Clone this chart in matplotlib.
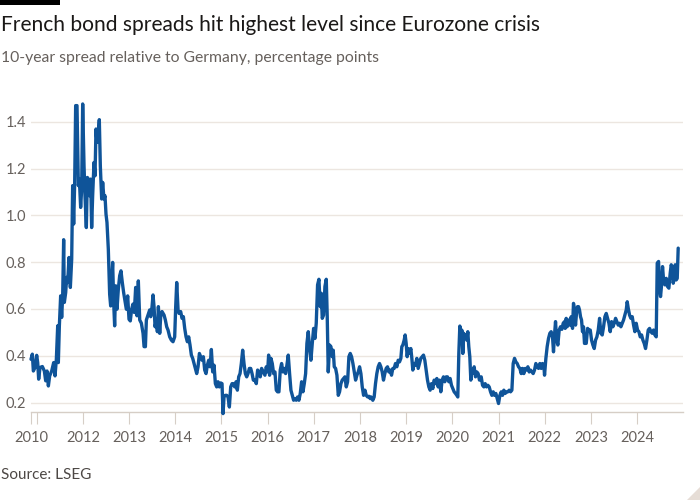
import matplotlib
matplotlib.use("Agg")
import matplotlib.pyplot as plt
from matplotlib.patches import Rectangle, Polygon
import numpy as np

# ---------------- data (fractional years, percentage points) ----------------
dates_2011_2013 = [2010.877, 2010.906, 2010.928, 2010.964, 2011.000, 2011.022, 2011.043, 2011.072, 2011.123, 2011.166,
                   2011.195, 2011.224, 2011.253, 2011.281, 2011.325, 2011.368, 2011.397, 2011.426, 2011.455, 2011.469,
                   2011.491, 2011.519, 2011.541, 2011.563, 2011.584, 2011.599, 2011.628, 2011.649, 2011.671, 2011.700,
                   2011.729, 2011.758, 2011.779, 2011.801, 2011.823, 2011.844, 2011.873, 2011.902, 2011.924, 2011.952,
                   2011.974, 2011.996, 2012.025, 2012.046, 2012.075, 2012.097, 2012.118, 2012.140, 2012.169, 2012.190,
                   2012.212, 2012.241, 2012.263, 2012.284, 2012.306, 2012.335, 2012.356, 2012.378, 2012.407, 2012.429,
                   2012.457, 2012.479, 2012.501, 2012.522, 2012.551, 2012.580, 2012.602, 2012.623, 2012.645, 2012.667,
                   2012.688, 2012.710, 2012.739, 2012.768, 2012.797, 2012.825, 2012.854, 2012.883, 2012.912, 2012.941,
                   2012.970, 2012.999, 2013.027, 2013.056, 2013.085, 2013.114, 2013.143, 2013.172, 2013.201]
spread_2011_2013 = [0.385, 0.407, 0.335, 0.350, 0.402, 0.371, 0.300, 0.350, 0.354, 0.335,
                    0.293, 0.335, 0.271, 0.314, 0.335, 0.371, 0.314, 0.385, 0.528, 0.371,
                    0.528, 0.656, 0.564, 0.656, 0.896, 0.628, 0.670, 0.735, 0.713, 0.820,
                    0.692, 0.813, 1.127, 0.963, 1.141, 1.469, 1.469, 1.127, 1.155, 1.034,
                    1.112, 1.476, 1.212, 1.084, 0.948, 1.162, 1.155, 1.084, 1.155, 0.948,
                    1.084, 1.226, 1.169, 1.369, 1.312, 1.348, 1.409, 1.212, 1.070, 1.141,
                    1.070, 1.084, 1.005, 0.970, 0.856, 0.663, 0.613, 0.713, 0.799, 0.628,
                    0.528, 0.699, 0.599, 0.685, 0.742, 0.763, 0.713, 0.670, 0.635, 0.599,
                    0.656, 0.556, 0.549, 0.599, 0.621, 0.585, 0.692, 0.571, 0.720]

dates_2013_2015 = [2013.231, 2013.267, 2013.303, 2013.325, 2013.354, 2013.375, 2013.411, 2013.447, 2013.469, 2013.498,
                   2013.519, 2013.541, 2013.563, 2013.592, 2013.613, 2013.635, 2013.664, 2013.685, 2013.714, 2013.758,
                   2013.786, 2013.815, 2013.844, 2013.880, 2013.916, 2013.952, 2013.988, 2014.010, 2014.032, 2014.061,
                   2014.082, 2014.118, 2014.147, 2014.176, 2014.205, 2014.234, 2014.263, 2014.291, 2014.320, 2014.349,
                   2014.378, 2014.407, 2014.436, 2014.465, 2014.494, 2014.523, 2014.551, 2014.580, 2014.609, 2014.638,
                   2014.667, 2014.696, 2014.724, 2014.753, 2014.782, 2014.811, 2014.840, 2014.869, 2014.898, 2014.926,
                   2014.955, 2014.984, 2015.013, 2015.035, 2015.056, 2015.085, 2015.114, 2015.143, 2015.172, 2015.201,
                   2015.230, 2015.258, 2015.287, 2015.316, 2015.345, 2015.374, 2015.403, 2015.431, 2015.460, 2015.489,
                   2015.518, 2015.547, 2015.576, 2015.605, 2015.634, 2015.663, 2015.691]
spread_2013_2015 = [0.553, 0.539, 0.496, 0.439, 0.439, 0.553, 0.574, 0.596, 0.567, 0.610,
                    0.660, 0.610, 0.524, 0.553, 0.503, 0.610, 0.496, 0.567, 0.589, 0.574,
                    0.553, 0.524, 0.510, 0.481, 0.467, 0.460, 0.481, 0.610, 0.713, 0.596,
                    0.581, 0.589, 0.560, 0.567, 0.517, 0.481, 0.460, 0.481, 0.446, 0.403,
                    0.389, 0.367, 0.346, 0.324, 0.353, 0.410, 0.396, 0.381, 0.396, 0.339,
                    0.324, 0.360, 0.381, 0.353, 0.427, 0.331, 0.360, 0.281, 0.267, 0.289,
                    0.267, 0.284, 0.281, 0.153, 0.224, 0.231, 0.231, 0.224, 0.181, 0.267,
                    0.281, 0.281, 0.267, 0.289, 0.253, 0.310, 0.324, 0.367, 0.424, 0.367,
                    0.324, 0.310, 0.324, 0.346, 0.346, 0.324, 0.296]

dates_2015_2018 = [2015.726, 2015.755, 2015.784, 2015.812, 2015.841, 2015.870, 2015.906, 2015.942, 2015.971, 2016.000,
                   2016.022, 2016.043, 2016.072, 2016.101, 2016.130, 2016.159, 2016.188, 2016.216, 2016.245, 2016.274,
                   2016.303, 2016.332, 2016.361, 2016.390, 2016.418, 2016.447, 2016.476, 2016.505, 2016.534, 2016.563,
                   2016.592, 2016.620, 2016.649, 2016.678, 2016.707, 2016.736, 2016.765, 2016.794, 2016.823, 2016.851,
                   2016.880, 2016.909, 2016.938, 2016.967, 2016.996, 2017.025, 2017.053, 2017.082, 2017.111, 2017.140,
                   2017.162, 2017.183, 2017.212, 2017.241, 2017.270, 2017.291, 2017.313, 2017.342, 2017.371, 2017.400,
                   2017.421, 2017.443, 2017.472, 2017.501, 2017.530, 2017.558, 2017.587, 2017.616, 2017.645, 2017.674,
                   2017.703, 2017.732, 2017.760, 2017.789, 2017.818, 2017.847, 2017.876, 2017.905, 2017.934, 2017.962,
                   2017.991, 2018.020, 2018.049, 2018.078, 2018.107, 2018.136, 2018.165, 2018.193, 2018.222]
spread_2015_2018 = [0.296, 0.281, 0.339, 0.331, 0.310, 0.346, 0.331, 0.317, 0.353, 0.331,
                    0.403, 0.317, 0.389, 0.367, 0.324, 0.331, 0.253, 0.246, 0.246, 0.339,
                    0.367, 0.331, 0.346, 0.324, 0.360, 0.403, 0.324, 0.253, 0.231, 0.210,
                    0.217, 0.210, 0.224, 0.210, 0.239, 0.289, 0.246, 0.281, 0.324, 0.453,
                    0.503, 0.431, 0.381, 0.453, 0.517, 0.474, 0.539, 0.703, 0.727, 0.610,
                    0.667, 0.560, 0.574, 0.696, 0.727, 0.567, 0.331, 0.446, 0.439, 0.396,
                    0.424, 0.353, 0.346, 0.317, 0.231, 0.246, 0.281, 0.296, 0.303, 0.310,
                    0.267, 0.289, 0.396, 0.410, 0.396, 0.367, 0.331, 0.296, 0.317, 0.331,
                    0.353, 0.324, 0.267, 0.231, 0.253, 0.231, 0.224, 0.227, 0.217]

dates_2018_2020 = [2018.242, 2018.278, 2018.307, 2018.336, 2018.365, 2018.394, 2018.423, 2018.452, 2018.481, 2018.509,
                   2018.538, 2018.567, 2018.596, 2018.625, 2018.654, 2018.683, 2018.711, 2018.740, 2018.769, 2018.798,
                   2018.827, 2018.856, 2018.885, 2018.906, 2018.928, 2018.957, 2018.978, 2019.000, 2019.022, 2019.043,
                   2019.072, 2019.101, 2019.123, 2019.144, 2019.173, 2019.202, 2019.231, 2019.260, 2019.289, 2019.317,
                   2019.346, 2019.375, 2019.404, 2019.433, 2019.462, 2019.491, 2019.519, 2019.548, 2019.577, 2019.606,
                   2019.635, 2019.664, 2019.693, 2019.722, 2019.750, 2019.779, 2019.808, 2019.837, 2019.866, 2019.895,
                   2019.924, 2019.952, 2019.981, 2020.010, 2020.039, 2020.068, 2020.097, 2020.118, 2020.140, 2020.162,
                   2020.183, 2020.205, 2020.227, 2020.248, 2020.270, 2020.291, 2020.313, 2020.335, 2020.356, 2020.378,
                   2020.400, 2020.421, 2020.443, 2020.472, 2020.501, 2020.530, 2020.558, 2020.587]
spread_2018_2020 = [0.224, 0.210, 0.224, 0.281, 0.324, 0.353, 0.367, 0.353, 0.331, 0.296,
                    0.324, 0.346, 0.353, 0.331, 0.339, 0.317, 0.346, 0.346, 0.367, 0.353,
                    0.381, 0.374, 0.389, 0.439, 0.446, 0.467, 0.489, 0.453, 0.396, 0.431,
                    0.410, 0.431, 0.389, 0.339, 0.367, 0.360, 0.389, 0.346, 0.367, 0.389,
                    0.396, 0.403, 0.381, 0.339, 0.296, 0.267, 0.253, 0.281, 0.260, 0.296,
                    0.281, 0.303, 0.267, 0.296, 0.246, 0.296, 0.310, 0.289, 0.310, 0.310,
                    0.289, 0.303, 0.274, 0.260, 0.246, 0.239, 0.231, 0.224, 0.410, 0.527,
                    0.467, 0.510, 0.410, 0.496, 0.474, 0.489, 0.467, 0.503, 0.439, 0.396,
                    0.296, 0.339, 0.324, 0.353, 0.310, 0.331, 0.324, 0.296]

dates_2020_2022 = [2020.625, 2020.654, 2020.683, 2020.711, 2020.740, 2020.769, 2020.798, 2020.827, 2020.856, 2020.885,
                   2020.913, 2020.942, 2020.971, 2021.000, 2021.029, 2021.058, 2021.087, 2021.115, 2021.144, 2021.173,
                   2021.202, 2021.231, 2021.260, 2021.289, 2021.317, 2021.346, 2021.375, 2021.404, 2021.433, 2021.462,
                   2021.491, 2021.519, 2021.548, 2021.577, 2021.606, 2021.635, 2021.664, 2021.693, 2021.722, 2021.750,
                   2021.779, 2021.808, 2021.837, 2021.866, 2021.895, 2021.924, 2021.952, 2021.981, 2021.996, 2022.025,
                   2022.053, 2022.082, 2022.111, 2022.140, 2022.169, 2022.190, 2022.212, 2022.234, 2022.255, 2022.284,
                   2022.313, 2022.342, 2022.371, 2022.400, 2022.429, 2022.443, 2022.465, 2022.486, 2022.515, 2022.544,
                   2022.573, 2022.602, 2022.623, 2022.645, 2022.667, 2022.688, 2022.710, 2022.732, 2022.753, 2022.775,
                   2022.797, 2022.818, 2022.840, 2022.861]
spread_2020_2022 = [0.310, 0.274, 0.267, 0.281, 0.267, 0.274, 0.267, 0.246, 0.231, 0.246,
                    0.231, 0.239, 0.217, 0.196, 0.231, 0.246, 0.231, 0.253, 0.239, 0.246,
                    0.246, 0.253, 0.246, 0.253, 0.367, 0.389, 0.374, 0.367, 0.353, 0.346,
                    0.324, 0.346, 0.324, 0.346, 0.339, 0.353, 0.331, 0.339, 0.331, 0.324,
                    0.339, 0.367, 0.353, 0.346, 0.367, 0.346, 0.367, 0.360, 0.317, 0.389,
                    0.439, 0.474, 0.496, 0.503, 0.481, 0.417, 0.489, 0.546, 0.474, 0.446,
                    0.510, 0.524, 0.513, 0.539, 0.546, 0.517, 0.560, 0.524, 0.553, 0.531,
                    0.567, 0.517, 0.624, 0.596, 0.531, 0.581, 0.610, 0.610, 0.596, 0.567,
                    0.553, 0.503, 0.524, 0.453]

dates_2022_2024 = [2022.899, 2022.928, 2022.957, 2022.986, 2023.014, 2023.043, 2023.072, 2023.101, 2023.130, 2023.159,
                   2023.188, 2023.216, 2023.245, 2023.274, 2023.303, 2023.332, 2023.361, 2023.390, 2023.418, 2023.447,
                   2023.476, 2023.505, 2023.534, 2023.563, 2023.592, 2023.620, 2023.649, 2023.678, 2023.707, 2023.736,
                   2023.765, 2023.786, 2023.808, 2023.837, 2023.866, 2023.895, 2023.924, 2023.952, 2023.981, 2024.010,
                   2024.039, 2024.068, 2024.097, 2024.126, 2024.154, 2024.183, 2024.212, 2024.241, 2024.270, 2024.299,
                   2024.328, 2024.356, 2024.385, 2024.414, 2024.436, 2024.465, 2024.486, 2024.508, 2024.530, 2024.551,
                   2024.573, 2024.602, 2024.631, 2024.659, 2024.688, 2024.717, 2024.739, 2024.761, 2024.782, 2024.804,
                   2024.825, 2024.847, 2024.869, 2024.890]
spread_2022_2024 = [0.453, 0.517, 0.510, 0.510, 0.467, 0.446, 0.431, 0.467, 0.481, 0.510,
                    0.560, 0.496, 0.489, 0.524, 0.567, 0.581, 0.560, 0.539, 0.503, 0.546,
                    0.524, 0.539, 0.560, 0.546, 0.531, 0.539, 0.524, 0.539, 0.553, 0.574,
                    0.596, 0.631, 0.603, 0.574, 0.560, 0.567, 0.531, 0.503, 0.539, 0.510,
                    0.503, 0.481, 0.489, 0.467, 0.453, 0.431, 0.467, 0.510, 0.517, 0.503,
                    0.496, 0.510, 0.489, 0.481, 0.796, 0.803, 0.681, 0.653, 0.703, 0.781,
                    0.724, 0.703, 0.731, 0.696, 0.689, 0.753, 0.789, 0.774, 0.710, 0.731,
                    0.789, 0.724, 0.731, 0.860]

y_ticks = [0.2, 0.4, 0.6, 0.8, 1.0, 1.2, 1.4]
x_tick_years = [2010.877, 2011, 2012, 2013, 2014, 2015, 2016, 2017, 2018, 2019, 2020, 2021, 2022, 2023, 2024]
x_tick_labels = ["2010", "", "2012", "2013", "2014", "2015", "2016", "2017", "2018", "2019",
                 "2020", "2021", "2022", "2023", "2024"]

title = "French bond spreads hit highest level since Eurozone crisis"
subtitle = "10-year spread relative to Germany, percentage points"
source = "Source: LSEG"

# ---------------- assemble ----------------
date_parts = [dates_2011_2013, dates_2013_2015, dates_2015_2018, dates_2018_2020, dates_2020_2022, dates_2022_2024]
value_parts = [spread_2011_2013, spread_2013_2015, spread_2015_2018, spread_2018_2020, spread_2020_2022, spread_2022_2024]
for d, v in zip(date_parts, value_parts):
    assert len(d) == len(v), (len(d), len(v))
dates = np.concatenate(date_parts)
spread = np.concatenate(value_parts)

# ---------------- style ----------------
FONT = "Lato"
plt.rcParams["font.family"] = [FONT, "DejaVu Sans"]
TEXT_GREY = "#66605c"
GRID = "#ece6e0"
AXIS = "#d6cec6"
LINE = "#0f5499"

fig = plt.figure(figsize=(7, 5), dpi=100)
fig.patch.set_facecolor("white")

W, H = 700, 500
def fx(px):
    return px / W
def fy(py):
    return 1 - py / H

ax = fig.add_axes([fx(31), fy(412.3), fx(683) - fx(31), fy(100) - fy(412.3)])
ax.set_facecolor("white")

ax.plot(dates, spread, color=LINE, lw=2.4, solid_joinstyle="round", solid_capstyle="round",
        zorder=3, clip_on=False)

ax.set_xlim(2010.877, 2024.994)
ax.set_ylim(0.1585, 1.493)

ax.set_yticks(y_ticks)
ax.set_yticklabels([f"{t:.1f}" for t in y_ticks])
ax.yaxis.grid(True, color=GRID, lw=1.0, zorder=0)
ax.tick_params(axis="y", length=0, pad=18, labelsize=10.5, labelcolor=TEXT_GREY)
for lab in ax.get_yticklabels():
    lab.set_horizontalalignment("left")

ax.set_xticks(x_tick_years)
ax.set_xticklabels(x_tick_labels)
ax.tick_params(axis="x", length=8.5, width=0.8, color=AXIS, pad=5, labelsize=10.5, labelcolor=TEXT_GREY)

for s in ["top", "right", "left"]:
    ax.spines[s].set_visible(False)
ax.spines["bottom"].set_color(AXIS)
ax.spines["bottom"].set_linewidth(1.0)
ax.set_axisbelow(True)

# ---------------- text & decorations ----------------
fig.text(fx(1), fy(31), title, fontsize=15.1, color="#1a1817", ha="left", va="baseline")
fig.text(fx(1), fy(62), subtitle, fontsize=11.3, color=TEXT_GREY, ha="left", va="baseline")
fig.text(fx(1), fy(479), source, fontsize=11, color="#4d4845", ha="left", va="baseline")

fig.patches.append(Rectangle((0, fy(5)), fx(60), fy(0) - fy(5), transform=fig.transFigure,
                             facecolor="black", edgecolor="none"))
fig.patches.append(Polygon([(1, fy(487)), (1, 0), (fx(687), 0)], closed=True, transform=fig.transFigure,
                           facecolor="#e6ddd6", edgecolor="none"))

fig.savefig("out.png", dpi=100, facecolor="white")
